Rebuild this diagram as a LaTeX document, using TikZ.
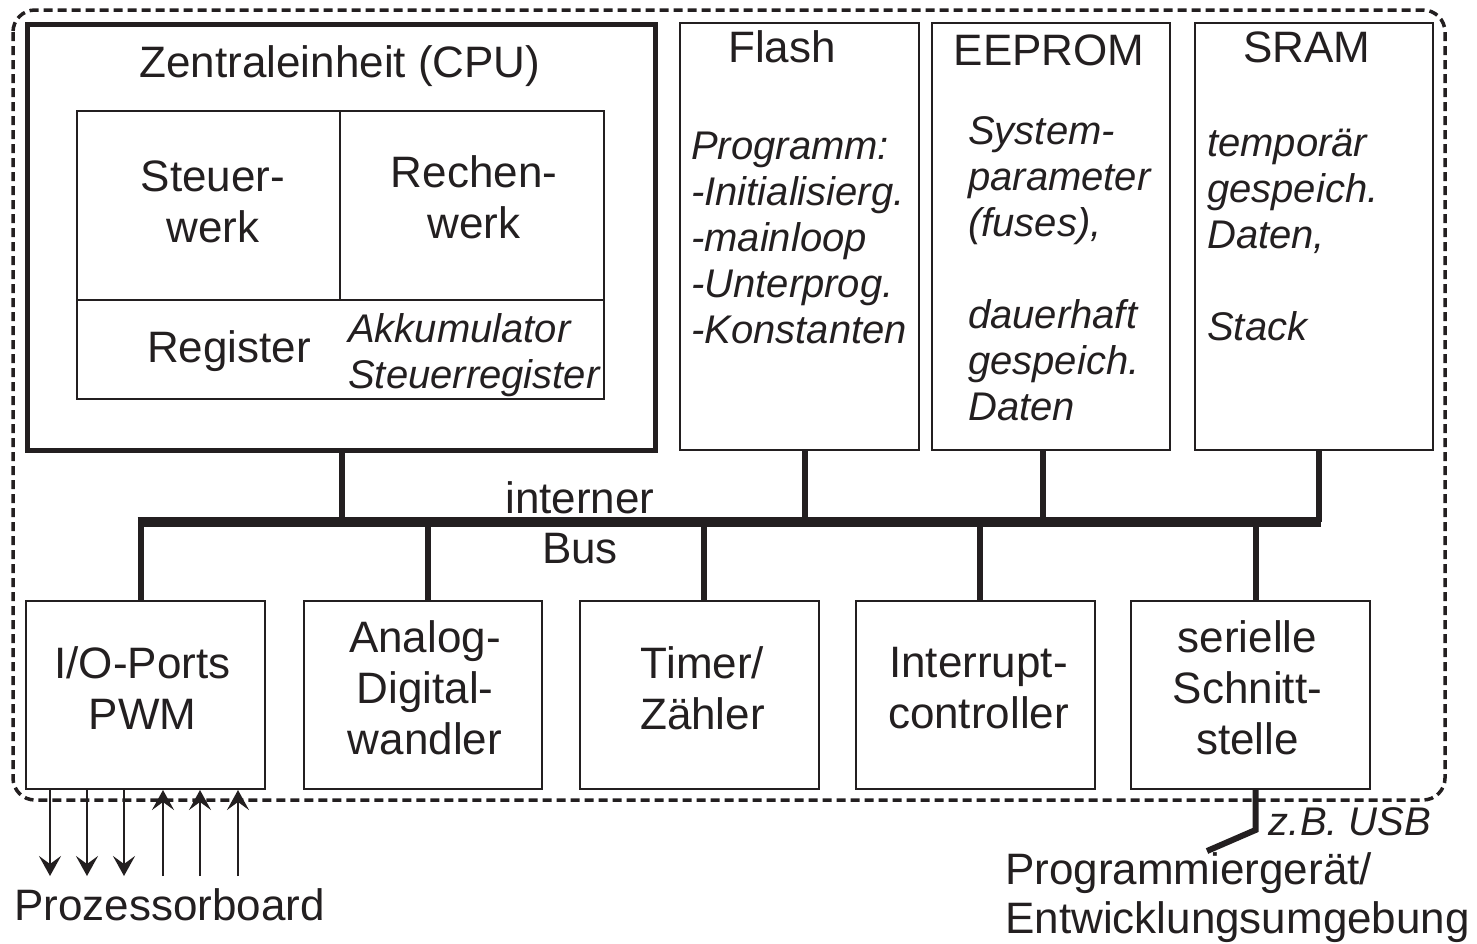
\documentclass[tikz,border=0pt]{standalone}
\usepackage{fontspec}
\setmainfont{Liberation Sans}
\usetikzlibrary{arrows.meta}
\definecolor{ink}{HTML}{231F20}
\newcommand\lblfont{\fontsize{44}{51}\selectfont}
\newcommand\memofont{\fontsize{40}{46}\selectfont\itshape}
\tikzset{
  frame/.style={draw=ink, line width=3.5pt, dash pattern=on 9pt off 5pt, rounded corners=22pt},
  cpubox/.style={draw=ink, line width=4.5pt, inner sep=0pt, anchor=north west},
  unit/.style={draw=ink, line width=2pt, inner sep=0pt, anchor=north west},
  heading/.style={font=\lblfont, inner sep=0pt, text=ink, align=center},
  memo/.style={font=\memofont, align=left, anchor=north west, inner sep=0pt, text=ink},
  busline/.style={draw=ink, line width=10pt},
  tap/.style={draw=ink, line width=6pt},
  sig/.style={draw=ink, line width=2.5pt, -{Stealth[length=20pt,width=22pt,inset=8pt]}}
}
\begin{document}
\begin{tikzpicture}[x=1pt,y=-1pt]
\useasboundingbox (0,0) rectangle (1477,943);

% outer border of the microcontroller
\draw[frame] (13,10) rectangle (1445,800);

% CPU
\node[cpubox, minimum width=628pt, minimum height=426pt] (cpu) at (25,22) {};
\node[heading] (cputitle) at (340,66) {Zentraleinheit (CPU)};
\node[unit, minimum width=263pt, minimum height=189pt] (sw) at (76,110) {};
\node[unit, minimum width=264pt, minimum height=189pt] (rw) at (339,110) {};
\node[heading] (swtext) at (213,202) {Steuer-\\werk};
\node[heading] (rwtext) at (474,197) {Rechen-\\werk};
\node[unit, minimum width=527pt, minimum height=99pt] (reg) at (76,299) {};
\node[heading] (regtitle) at (229,351) {Register};
\node[memo] (regnote) at (348,313) {Akkumulator\\Steuerregister};

% memories
\node[unit, minimum width=239pt, minimum height=427pt] (flash) at (679,22) {};
\node[heading] (flashtitle) at (782,47) {Flash};
\node[memo] (flashnote) at (691,132) {Programm:\\-Initialisierg.\\-mainloop\\-Unterprog.\\-Konstanten};

\node[unit, minimum width=238pt, minimum height=427pt] (eeprom) at (931,22) {};
\node[heading] (eepromtitle) at (1049,50) {EEPROM};
\node[memo] (eepromnote) at (968,116) {System-\\parameter\\(fuses),\\[46pt]dauerhaft\\gespeich.\\Daten};

\node[unit, minimum width=238pt, minimum height=427pt] (sram) at (1194,22) {};
\node[heading] (sramtitle) at (1307,47) {SRAM};
\node[memo] (sramnote) at (1207,129) {temporär\\gespeich.\\Daten,\\[46pt]Stack};

% peripherals
\node[unit, minimum width=239pt, minimum height=188pt] (io) at (25,600) {};
\node[unit, minimum width=238pt, minimum height=188pt] (adc) at (303,600) {};
\node[unit, minimum width=239pt, minimum height=188pt] (timer) at (579,600) {};
\node[unit, minimum width=239pt, minimum height=188pt] (irq) at (855,600) {};
\node[unit, minimum width=239pt, minimum height=188pt] (uart) at (1130,600) {};
\node[heading] (iotext) at ([xshift=-3pt,yshift=7pt]io.center) {I/O-Ports\\PWM};
\node[heading] (adctext) at ([xshift=2pt,yshift=7pt]adc.center) {Analog-\\Digital-\\wandler};
\node[heading] (timertext) at ([xshift=3pt,yshift=7pt]timer.center) {Timer/\\Zähler};
\node[heading] (irqtext) at ([xshift=3pt,yshift=7pt]irq.center) {Interrupt-\\controller};
\node[heading] (uarttext) at ([xshift=-3pt,yshift=7pt]uart.center) {serielle\\Schnitt-\\stelle};

% internal bus
\coordinate (busy) at (0,522);
\draw[busline] ([xshift=-8pt]io.north |- busy) -- ([xshift=7pt]sram.south |- busy);
\foreach \n/\dx in {cpu/1,flash/5,eeprom/-8,sram/5}
  \draw[tap] ([xshift=\dx pt]\n.south) -- ([xshift=\dx pt]\n.south |- busy);
\foreach \n/\dx in {io/-5,adc/5,timer/4,irq/4,uart/5}
  \draw[tap] ([xshift=\dx pt]\n.north |- busy) -- ([xshift=\dx pt]\n.north);
\node[heading] (bustop) at (580,498) {interner};
\node[heading] (busbot) at (580,549) {Bus};

% port lines to the board
\coordinate (p1) at (50,876);
\coordinate (p2) at (87,876);
\coordinate (p3) at (124,876);
\coordinate (p4) at (163,876);
\coordinate (p5) at (200,876);
\coordinate (p6) at (238,876);
\foreach \p in {p1,p2,p3}
  \draw[sig] (io.south -| \p) -- (\p);
\foreach \p in {p4,p5,p6}
  \draw[sig] (\p) -- (io.south -| \p);
\node[heading, anchor=west] (board) at (14,905) {Prozessorboard};

% programming link
\coordinate (usbend) at (1207,851);
\draw[tap] ([xshift=5pt]uart.south) -- ++(0,40) -- (usbend);
\node[memo, anchor=center] (usb) at (1350,822) {z.B. USB};
\node[heading, align=left, anchor=north west, font=\fontsize{44}{49}\selectfont] (prog) at (1005,852)
  {Programmiergerät/\\Entwicklungsumgebung};
\end{tikzpicture}
\end{document}
